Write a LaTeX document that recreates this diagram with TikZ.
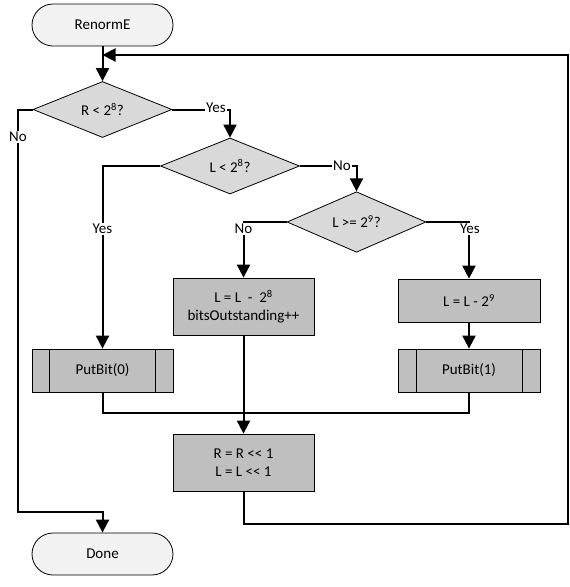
\documentclass[tikz,border=0pt]{standalone}
\usepackage{fontspec}
\setmainfont{Carlito}
\usetikzlibrary{shapes.geometric,shapes.misc,arrows.meta}
\definecolor{termfill}{HTML}{F2F2F2}
\definecolor{diafill}{HTML}{D9D9D9}
\definecolor{boxfill}{HTML}{BFBFBF}
\tikzset{
  every node/.style={font=\fontsize{15}{18}\selectfont},
  term/.style={rounded rectangle, draw=black, line width=0.8pt, fill=termfill, minimum width=141pt, minimum height=42pt, inner sep=0pt},
  dia/.style={diamond, draw=black, line width=0.8pt, fill=diafill, minimum width=139pt, minimum height=56pt, inner sep=0pt},
  procbox/.style={rectangle, draw=black, line width=0.8pt, fill=boxfill, minimum width=141pt, inner sep=0pt, align=center},
  conn/.style={line width=2pt},
  arr/.style={conn, -{Triangle[length=13pt,width=13pt]}},
  lbl/.style={fill=white, inner sep=1pt}
}
\begin{document}
\begin{tikzpicture}[x=1pt,y=-1pt]
\useasboundingbox (0,0) rectangle (570,587);
% nodes
\node[term] (start) at (102.5,25) {RenormE};
\node[dia] (d1) at (102.5,109.5) {R < 2\textsuperscript{8}?};
\node[dia] (d2) at (230,166) {L < 2\textsuperscript{8}?};
\node[dia] (d3) at (356.5,222) {L >= 2\textsuperscript{9}?};
\node[procbox, minimum height=57pt] (b1) at (243.5,306.5) {L = L \ -\ \ 2\textsuperscript{8}\\bitsOutstanding++};
\node[procbox, minimum width=142pt, minimum height=43pt] (b2) at (469,300.5) {L = L - 2\textsuperscript{9}};
\node[procbox, minimum height=43pt] (p0) at (102.5,370.5) {PutBit(0)};
\node[procbox, minimum width=142pt, minimum height=43pt] (p1) at (469,370.5) {PutBit(1)};
\node[procbox, minimum height=57pt] (b3) at (243.5,462.5) {R = R {<}{<} 1\\L = L {<}{<} 1};
\node[term] (done) at (102.5,554) {Done};
% inner lines of predefined process boxes
\draw[line width=0.8pt] ([xshift=18pt]p0.north west) -- ([xshift=18pt]p0.south west);
\draw[line width=0.8pt] ([xshift=-18pt]p0.north east) -- ([xshift=-18pt]p0.south east);
\draw[line width=0.8pt] ([xshift=19pt]p1.north west) -- ([xshift=19pt]p1.south west);
\draw[line width=0.8pt] ([xshift=-18pt]p1.north east) -- ([xshift=-18pt]p1.south east);
% coordinates
\coordinate (loopin) at (102.5,55);
\coordinate (loopbl) at (243.5,524);
\coordinate (loopbr) at (568,524);
\coordinate (looptr) at (568,55);
\coordinate (nol) at (18,109.5);
\coordinate (nobl) at (18,512);
\coordinate (nobr) at (102.5,512);
\coordinate (j0) at (102.5,413);
\coordinate (j1) at (469,413);
% connectors
\draw[arr] (start.south) -- (d1.north);
\draw[arr] (b3.south) -- (loopbl) -- (loopbr) -- (looptr) -- (loopin);
\draw[arr] (d1.east) -- (d1.east -| d2.north) -- (d2.north);
\draw[arr] (d1.west) -- (nol) -- (nobl) -- (nobr) -- (done.north);
\draw[arr] (d2.west) -- (d2.west -| p0.north) -- (p0.north);
\draw[arr] (d2.east) -- (d2.east -| d3.north) -- (d3.north);
\draw[arr] (d3.west) -- (d3.west -| b1.north) -- (b1.north);
\draw[arr] (d3.east) -- (d3.east -| b2.north) -- (b2.north);
\draw[arr] (b2.south) -- (p1.north);
\draw[arr] (b1.south) -- (b3.north);
\draw[conn] (p0.south) -- (j0) -- (j1) -- (p1.south);
% labels
\node[lbl] (lyes1) at (216,108) {Yes};
\node[lbl] (lno1) at (18,137) {No};
\node[lbl] (lyes2) at (102.5,229) {Yes};
\node[lbl] (lno2) at (342,166) {No};
\node[lbl] (lno3) at (243.5,229) {No};
\node[lbl] (lyes3) at (470,229) {Yes};
\end{tikzpicture}
\end{document}
